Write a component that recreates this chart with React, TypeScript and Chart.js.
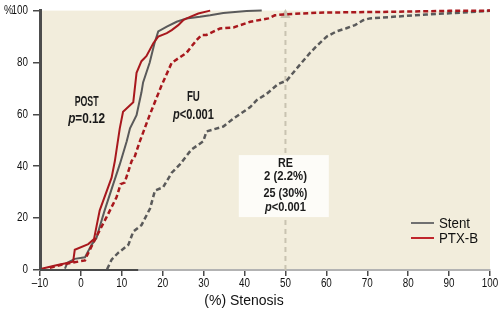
import React, { useEffect, useRef } from 'react';
import { Chart, registerables } from 'chart.js';

Chart.register(...registerables);

// ---------- data ----------
const X_TICKS = [-10, 0, 10, 20, 30, 40, 50, 60, 70, 80, 90, 100];
const Y_TICKS = [0, 20, 40, 60, 80, 100];

const POST_PTXB_X = [-9.6, -6, -1.9, -1.5, 1.8, 3.2, 3.8, 4.6, 7.5, 8.3, 9.5, 10.3, 12.8, 13.6, 14.8, 16, 17.7, 18.9, 21, 22.2, 23.8, 25, 26.7, 28.7, 31.6];
const POST_PTXB_Y = [0.5, 1.8, 3.2, 7.8, 10, 11.9, 16.7, 23, 35.6, 42, 54.6, 61, 64.7, 76, 80.5, 82.4, 87.4, 90, 91.3, 92.5, 94.4, 96.3, 97.6, 98.9, 100];

const POST_STENT_X = [-3.9, -3.3, -1.5, 1, 2.6, 3.8, 4.6, 5.8, 7.9, 9.5, 11.2, 12, 13.6, 14.8, 15.2, 16.8, 18, 18.9, 21, 23.4, 25.8, 29.1, 31.6, 34.8, 40.5, 44.2];
const POST_STENT_Y = [0.5, 2.8, 4.3, 4.9, 9.7, 12.3, 16.7, 23, 33.1, 40.7, 49.6, 54.6, 59.7, 68.5, 72.3, 79.9, 87.5, 92, 93.8, 95.7, 97, 97.6, 98.2, 99.1, 99.8, 100];

const FU_PTXB_X = [-7.6, -4.3, 1, 1.4, 3.8, 6.3, 8.7, 9.7, 10.7, 12.4, 13.2, 14.4, 16.8, 19.7, 22.2, 25.8, 28.3, 29.5, 30.7, 34, 37.3, 41.4, 45.8, 47.4, 49.5, 57.6, 73.8, 90, 100];
const FU_PTXB_Y = [0.9, 2.2, 3.7, 5.3, 12.9, 20.5, 28, 33.1, 33.7, 42, 43.9, 49.6, 59.7, 71.1, 79.9, 83.7, 88.7, 90.6, 90.6, 93.1, 93.5, 95.7, 97, 98.2, 98.5, 99.2, 99.5, 99.9, 100];

const FU_STENT_X = [6.4, 7.5, 9.1, 11.6, 12.8, 14.8, 16.9, 18.1, 20.1, 22.2, 24.2, 27, 29.9, 30.7, 34.8, 37.3, 41.4, 42.9, 45.4, 48.2, 50.3, 52.7, 56, 57.6, 60.1, 62.5, 64.9, 67, 69, 70.6, 76.3, 84.5, 92.7, 100];
const FU_STENT_Y = [0.3, 4, 6.6, 9.7, 14.8, 17.3, 23.7, 30.6, 31.9, 37.5, 40.7, 46.4, 49.6, 53.4, 55.3, 58.4, 62.8, 65.4, 67.9, 71.7, 73, 77.6, 83.7, 86.3, 90, 92, 93.2, 94.4, 96.3, 97, 97.6, 98.5, 99.2, 99.9];

const CUTOFF_X = [50, 50];
const CUTOFF_Y = [0, 98.3];

const LEGEND_LABELS = ['Stent', 'PTX-B'];
const X_TITLE = '(%) Stenosis';
const Y_TITLE = '%';
const RE_LINES = ['RE', '2 (2.2%)', '25 (30%)'];

// ---------- styles ----------
const RED = '#a8181d';
const GREY = '#5a5a5a';
const BEIGE = '#f2eddc';
const FONT = '"Liberation Sans", Arial, sans-serif';

const pts = (xs: number[], ys: number[]) => xs.map((x, i) => ({ x, y: ys[i] }));

type Part = { t: string; it?: boolean };

// draws text parts, horizontally scaled either by a fixed factor (sx) or to a target width (tw)
function drawParts(
  ctx: CanvasRenderingContext2D,
  parts: Part[],
  x: number,
  y: number,
  o: { size: number; bold?: boolean; sx?: number; tw?: number; align?: 'left' | 'center' | 'right' }
) {
  const font = (it?: boolean) => `${it ? 'italic ' : ''}${o.bold ? 'bold ' : ''}${o.size}px ${FONT}`;
  let total = 0;
  const widths = parts.map((p) => {
    ctx.font = font(p.it);
    const w = ctx.measureText(p.t).width;
    total += w;
    return w;
  });
  const sx = o.tw ? o.tw / total : o.sx ?? 1;
  const drawn = total * sx;
  const align = o.align ?? 'center';
  const left = align === 'center' ? x - drawn / 2 : align === 'right' ? x - drawn : x;
  ctx.save();
  ctx.translate(left, y);
  ctx.scale(sx, 1);
  ctx.textBaseline = 'middle';
  ctx.textAlign = 'left';
  let cx = 0;
  parts.forEach((p, i) => {
    ctx.font = font(p.it);
    ctx.fillText(p.t, cx, 0);
    cx += widths[i];
  });
  ctx.restore();
}

const decorPlugin = {
  id: 'decor',
  beforeDraw(chart: any) {
    const { ctx, chartArea: a } = chart;
    ctx.save();
    ctx.fillStyle = '#ffffff';
    ctx.fillRect(0, 0, chart.width, chart.height);
    ctx.fillStyle = BEIGE;
    ctx.fillRect(a.left, a.top, a.right - a.left, a.bottom - a.top);
    ctx.restore();
  },
  afterDatasetsDraw(chart: any) {
    const { ctx, chartArea: a, scales } = chart;
    const xs = scales.x;
    const ys = scales.y;
    ctx.save();
    // dark portion of baseline
    ctx.strokeStyle = '#4a4a4a';
    ctx.lineWidth = 2;
    ctx.beginPath();
    ctx.moveTo(xs.getPixelForValue(-10), a.bottom);
    ctx.lineTo(xs.getPixelForValue(14), a.bottom);
    ctx.stroke();

    // RE box
    const bx0 = xs.getPixelForValue(38.6);
    const bx1 = xs.getPixelForValue(60.6);
    const by0 = ys.getPixelForValue(44.3);
    const by1 = ys.getPixelForValue(20.4);
    ctx.fillStyle = '#fdfcf8';
    ctx.fillRect(bx0, by0, bx1 - bx0, by1 - by0);

    ctx.fillStyle = '#1a1a1a';
    const cx = xs.getPixelForValue(50);
    drawParts(ctx, [{ t: RE_LINES[0] }], cx, ys.getPixelForValue(41), { size: 13, bold: true, tw: 15 });
    drawParts(ctx, [{ t: RE_LINES[1] }], cx, ys.getPixelForValue(35.9), { size: 13, bold: true, tw: 43 });
    drawParts(ctx, [{ t: RE_LINES[2] }], cx, ys.getPixelForValue(29.7), { size: 13, bold: true, tw: 44 });
    drawParts(ctx, [{ t: 'p', it: true }, { t: '<0.001' }], cx, ys.getPixelForValue(24.3), { size: 13, bold: true, tw: 41 });

    // POST / FU labels
    drawParts(ctx, [{ t: 'POST' }], xs.getPixelForValue(1.4), ys.getPixelForValue(64.7), { size: 14, bold: true, tw: 24 });
    drawParts(ctx, [{ t: 'p', it: true }, { t: '=0.12' }], xs.getPixelForValue(1.4), ys.getPixelForValue(58), { size: 14, bold: true, tw: 37 });
    drawParts(ctx, [{ t: 'FU' }], xs.getPixelForValue(27.5), ys.getPixelForValue(66.6), { size: 14, bold: true, tw: 13 });
    drawParts(ctx, [{ t: 'p', it: true }, { t: '<0.001' }], xs.getPixelForValue(27.5), ys.getPixelForValue(59.8), { size: 14, bold: true, tw: 41 });

    // legend
    const lx0 = a.right - 79;
    const lx1 = a.right - 56;
    const rows = [
      { y: a.bottom - 47, c: '#707070', t: LEGEND_LABELS[0] },
      { y: a.bottom - 32, c: '#c0262c', t: LEGEND_LABELS[1] },
    ];
    rows.forEach((r) => {
      ctx.strokeStyle = r.c;
      ctx.lineWidth = 2;
      ctx.beginPath();
      ctx.moveTo(lx0, r.y);
      ctx.lineTo(lx1, r.y);
      ctx.stroke();
      ctx.fillStyle = '#111';
      drawParts(ctx, [{ t: r.t }], a.right - 51, r.y + 1, { size: 14, sx: 0.95, align: 'left' });
    });
    ctx.restore();
  },
  afterDraw(chart: any) {
    const { ctx, chartArea: a, scales } = chart;
    const xs = scales.x;
    const ys = scales.y;
    ctx.save();
    ctx.fillStyle = '#111';
    // tick labels (condensed)
    X_TICKS.forEach((v) => {
      const lbl = v < 0 ? '–' + Math.abs(v) : String(v);
      drawParts(ctx, [{ t: lbl }], xs.getPixelForValue(v), a.bottom + 14, { size: 12, sx: 0.82 });
    });
    Y_TICKS.forEach((v) => {
      drawParts(ctx, [{ t: String(v) }], a.left - 12, ys.getPixelForValue(v), { size: 12, sx: 0.82, align: 'right' });
    });
    // axis titles
    ctx.font = `14px ${FONT}`;
    ctx.textAlign = 'center';
    ctx.textBaseline = 'middle';
    ctx.fillText(X_TITLE, 244, a.bottom + 31);
    drawParts(ctx, [{ t: Y_TITLE }], 4, a.top, { size: 12, sx: 0.85, align: 'left' });
    ctx.restore();
  },
};

export default function App() {
  const ref = useRef<HTMLCanvasElement | null>(null);

  useEffect(() => {
    if (!ref.current) return;
    const common = { fill: false, pointRadius: 0, tension: 0, clip: false as any };
    const chart = new Chart(ref.current, {
      type: 'scatter',
      data: {
        datasets: [
          { ...common, label: 'PTX-B POST', data: pts(POST_PTXB_X, POST_PTXB_Y), showLine: true, borderColor: RED, borderWidth: 2 },
          { ...common, label: 'PTX-B FU', data: pts(FU_PTXB_X, FU_PTXB_Y), showLine: true, borderColor: RED, borderWidth: 2.5, borderDash: [5, 3] },
          { ...common, label: 'Stent POST', data: pts(POST_STENT_X, POST_STENT_Y), showLine: true, borderColor: GREY, borderWidth: 2 },
          { ...common, label: 'Stent FU', data: pts(FU_STENT_X, FU_STENT_Y), showLine: true, borderColor: GREY, borderWidth: 2.5, borderDash: [5, 3] },
          {
            ...common,
            label: 'cutoff',
            data: pts(CUTOFF_X, CUTOFF_Y),
            showLine: true,
            borderColor: '#c9c3b1',
            borderWidth: 2,
            borderDash: [5, 4],
            pointRadius: [0, 4] as any,
            pointStyle: 'triangle',
            pointBackgroundColor: '#c9c3b1',
            pointBorderColor: '#c9c3b1',
          },
        ],
      },
      options: {
        responsive: false,
        animation: false,
        layout: { padding: { top: 7, right: 12, left: 0, bottom: 0 } },
        plugins: { legend: { display: false }, tooltip: { enabled: false } },
        scales: {
          x: {
            type: 'linear',
            min: -10,
            max: 100,
            afterBuildTicks: (s: any) => { s.ticks = X_TICKS.map((v) => ({ value: v })); },
            afterFit: (s: any) => { s.height = 41; },
            grid: { drawOnChartArea: false, drawTicks: true, tickLength: 6, color: '#4a4a4a', lineWidth: 1.5 },
            border: { display: true, color: '#b3b3b3', width: 2 },
            ticks: { padding: 2, color: 'rgba(0,0,0,0)', font: { size: 11 }, maxRotation: 0 },
          },
          y: {
            type: 'linear',
            min: 0,
            max: 100,
            afterBuildTicks: (s: any) => { s.ticks = Y_TICKS.map((v) => ({ value: v })); },
            afterFit: (s: any) => { s.width = 40; },
            grid: { drawOnChartArea: false, drawTicks: true, tickLength: 7, color: '#4a4a4a', lineWidth: 1.5 },
            border: { display: true, color: '#4d4d4d', width: 3 },
            ticks: { padding: 4, color: 'rgba(0,0,0,0)', font: { size: 11 } },
          },
        },
      },
      plugins: [decorPlugin],
    });
    return () => chart.destroy();
  }, []);

  return (
    <div style={{ position: 'fixed', left: 0, top: 0, width: 502, height: 311, background: '#fff' }}>
      <canvas ref={ref} width={502} height={311} style={{ width: 502, height: 311, display: 'block' }} />
    </div>
  );
}
